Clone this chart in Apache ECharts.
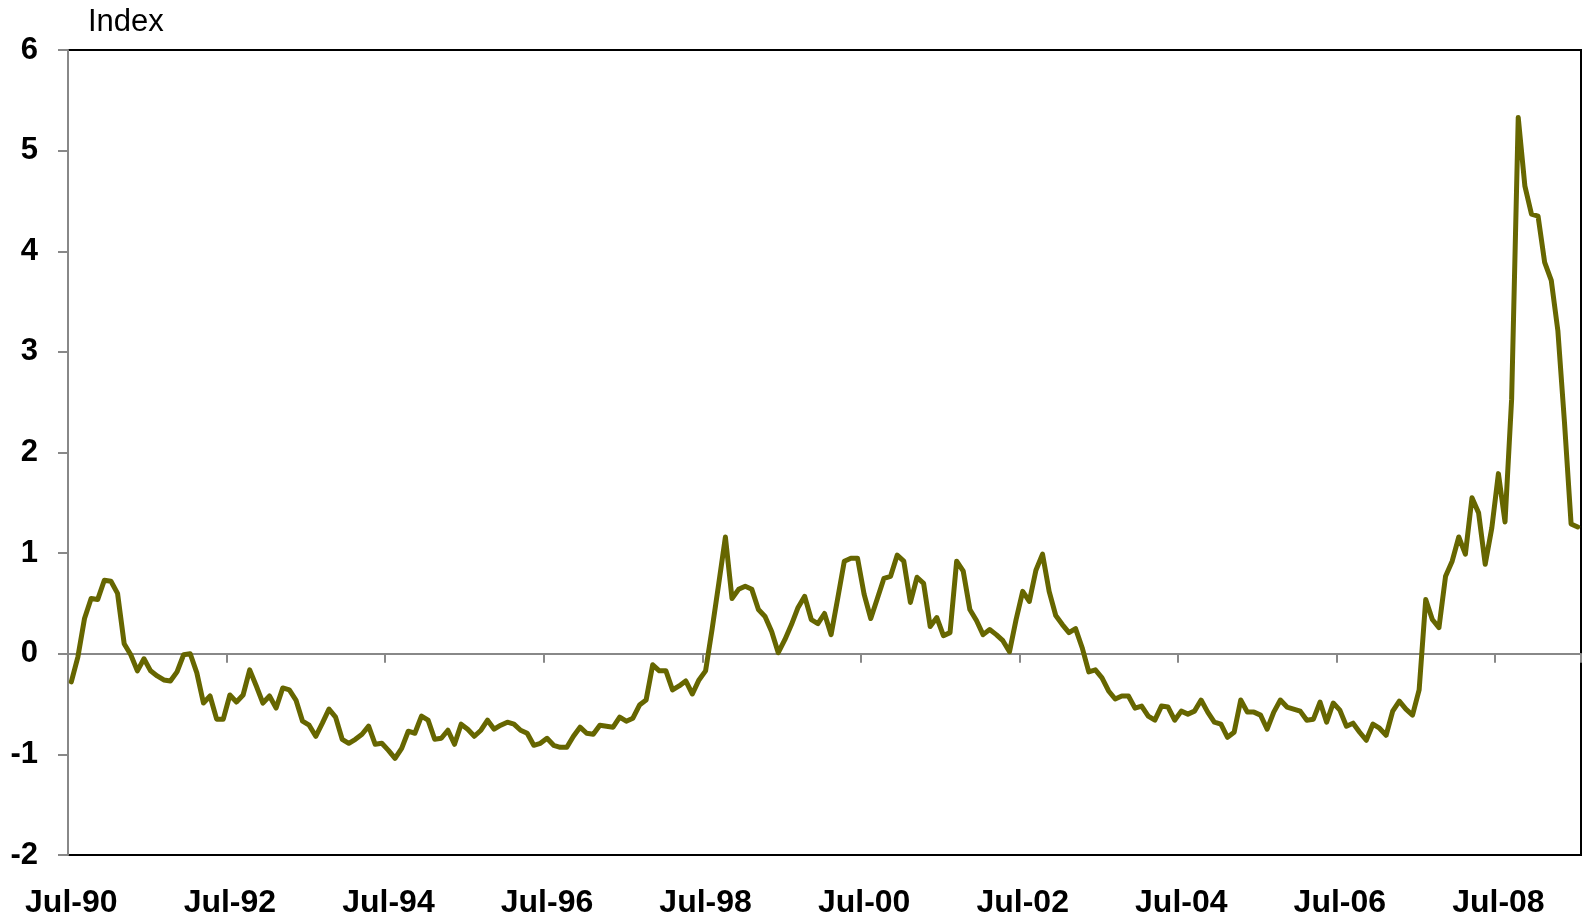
<!DOCTYPE html>
<html>
<head>
<meta charset="utf-8">
<script src="https://cdn.jsdelivr.net/npm/echarts/dist/echarts.min.js"></script>
<style>
html,body{margin:0;padding:0;background:#ffffff;}
#chart{width:1583px;height:917px;}
</style>
</head>
<body>
<div id="chart"></div>
<script>
// ---- data (monthly, Jul-90 .. Jul-09) ----
const startYear = 1990;
const startMonth = 6; // July, 0-based
const monthNames = ['Jan','Feb','Mar','Apr','May','Jun','Jul','Aug','Sep','Oct','Nov','Dec'];
const tickLabels = ['Jul-90','Jul-92','Jul-94','Jul-96','Jul-98','Jul-00','Jul-02','Jul-04','Jul-06','Jul-08'];
const yTicks = [-2, -1, 0, 1, 2, 3, 4, 5, 6];
const values = [
  -0.28, -0.03, 0.35, 0.55, 0.54, 0.73, 0.72, 0.60, 0.10, -0.01,
  -0.17, -0.05, -0.17, -0.22, -0.26, -0.27, -0.18, -0.01, 0.00, -0.19,
  -0.49, -0.42, -0.65, -0.65, -0.41, -0.48, -0.41, -0.16, -0.32, -0.49,
  -0.42, -0.54, -0.34, -0.36, -0.46, -0.67, -0.71, -0.82, -0.69, -0.55,
  -0.63, -0.85, -0.89, -0.85, -0.80, -0.72, -0.90, -0.89, -0.96, -1.04,
  -0.94, -0.77, -0.79, -0.62, -0.66, -0.85, -0.84, -0.76, -0.90, -0.70,
  -0.75, -0.82, -0.76, -0.66, -0.75, -0.71, -0.68, -0.70, -0.76, -0.79,
  -0.91, -0.89, -0.84, -0.91, -0.93, -0.93, -0.82, -0.73, -0.79, -0.80,
  -0.71, -0.72, -0.73, -0.63, -0.67, -0.64, -0.51, -0.46, -0.11, -0.17,
  -0.17, -0.36, -0.32, -0.27, -0.40, -0.26, -0.17, 0.25, 0.70, 1.16,
  0.55, 0.64, 0.67, 0.64, 0.44, 0.37, 0.22, 0.01, 0.14, 0.29,
  0.46, 0.57, 0.34, 0.30, 0.40, 0.19, 0.55, 0.92, 0.95, 0.95,
  0.59, 0.35, 0.55, 0.75, 0.77, 0.98, 0.92, 0.51, 0.76, 0.70,
  0.27, 0.36, 0.18, 0.21, 0.92, 0.82, 0.44, 0.33, 0.19, 0.24,
  0.19, 0.13, 0.02, 0.34, 0.62, 0.52, 0.83, 0.99, 0.62, 0.38,
  0.29, 0.21, 0.25, 0.06, -0.18, -0.16, -0.24, -0.37, -0.45, -0.42,
  -0.42, -0.54, -0.52, -0.62, -0.66, -0.52, -0.53, -0.66, -0.57, -0.60,
  -0.57, -0.46, -0.58, -0.68, -0.70, -0.83, -0.78, -0.46, -0.58, -0.58,
  -0.61, -0.75, -0.58, -0.46, -0.53, -0.55, -0.57, -0.66, -0.65, -0.48,
  -0.68, -0.49, -0.56, -0.72, -0.69, -0.78, -0.86, -0.70, -0.74, -0.81,
  -0.57, -0.47, -0.55, -0.61, -0.36, 0.54, 0.34, 0.26, 0.77, 0.92,
  1.16, 0.99, 1.55, 1.40, 0.89, 1.25, 1.79, 1.31, 2.53, 5.33,
  4.65, 4.37, 4.35, 3.89, 3.71, 3.21, 2.30, 1.29, 1.26
];

const categories = values.map(function (_, i) {
  const k = startMonth + i;
  const m = k % 12;
  const y = (startYear + Math.floor(k / 12)) % 100;
  return monthNames[m] + '-' + (y < 10 ? '0' + y : '' + y);
});

const FONT = '"Liberation Sans", Arial, sans-serif';
const chart = echarts.init(document.getElementById('chart'), null, {renderer: 'canvas'});
chart.setOption({
  animation: false,
  backgroundColor: '#ffffff',
  grid: {
    left: 68, right: 2, top: 50, bottom: 62,
    show: true, borderColor: '#000000', borderWidth: 2,
    backgroundColor: 'transparent',
    containLabel: false,
    outerBoundsMode: 'none'
  },
  graphic: [{
    type: 'text', left: 88, top: 7, silent: true,
    style: { text: 'Index', font: '31px ' + FONT, fill: '#000000' }
  }],
  xAxis: [{
    type: 'category',
    data: categories,
    boundaryGap: true,
    axisLine: { show: true, onZero: true, lineStyle: { color: '#888888', width: 2 } },
    axisTick: { show: true, interval: 23, length: 9, inside: false, lineStyle: { color: '#888888', width: 2 } },
    axisLabel: { show: false },
    splitLine: { show: false }
  }, {
    type: 'category',
    data: categories,
    boundaryGap: true,
    position: 'bottom',
    axisLine: { show: false, onZero: false },
    axisTick: { show: false },
    axisLabel: {
      show: true, interval: 23, margin: 32,
      color: '#000000', fontFamily: FONT, fontWeight: 'bold', fontSize: 32,
      formatter: function (v) { return tickLabels.indexOf(v) >= 0 ? v : ''; }
    },
    splitLine: { show: false }
  }],
  yAxis: {
    type: 'value',
    min: yTicks[0], max: yTicks[yTicks.length - 1], interval: 1,
    axisLine: { show: true, lineStyle: { color: '#888888', width: 2 } },
    axisTick: { show: true, length: 10, lineStyle: { color: '#888888', width: 2 } },
    axisLabel: { show: true, margin: 30, color: '#000000', fontFamily: FONT, fontWeight: 'bold', fontSize: 31 },
    splitLine: { show: false }
  },
  series: [{
    type: 'line',
    xAxisIndex: 0,
    data: values,
    showSymbol: false,
    symbol: 'none',
    smooth: false,
    lineStyle: { color: '#666600', width: 5, join: 'round', cap: 'round' },
    itemStyle: { color: '#666600' },
    z: 3
  }]
});
</script>
</body>
</html>
